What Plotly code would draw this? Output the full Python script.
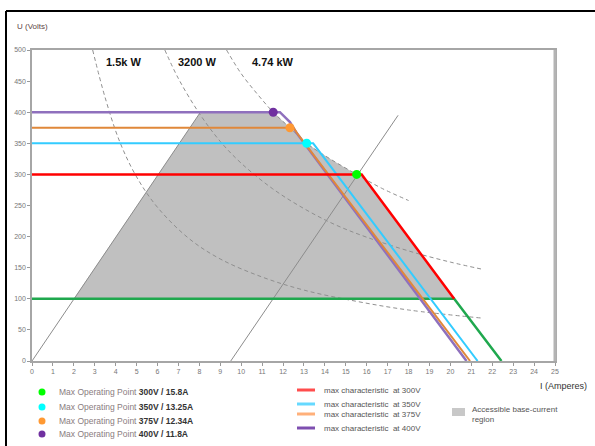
import plotly.graph_objects as go

# ---------------- data ----------------
# Max characteristic curves (I in A, U in V)
red_I = [0, 15.76, 20.18]
red_V = [300, 300, 100]
green_I = [0, 20.18, 22.44]
green_V = [100, 100, 0]
cyan_I = [0, 13.44, 21.3]
cyan_V = [350, 350, 0]
orange_I = [0, 12.5, 12.74, 20.94]
orange_V = [375, 375, 363, 0]
purple_I = [0, 11.85, 12.33, 12.66, 20.77]
purple_V = [400, 400, 384, 366, 0]

# Max operating points
mop_I = [15.52, 13.13, 12.33, 11.53]
mop_V = [300, 350, 375, 400]
mop_colors = ["#00ff00", "#00ffff", "#ff9933", "#7030a0"]
mop_labels = ["300V / 15.8A", "350V / 13.25A", "375V / 12.34A", "400V / 11.8A"]

# Accessible region
region_I = [2.0, 8.05, 11.53, 12.33, 13.13, 14.2, 15.52, 15.76, 20.18, 2.0]
region_V = [100, 400, 400, 375, 350, 326, 300, 300, 100, 100]

# Constant power curves (dashed)
p15_I = [2.9, 3.5, 4.2, 5.0, 6.0, 7.5, 9.0, 11.0, 13.0, 15.5, 18.0, 21.5]
p15_V = [500, 423, 352, 296, 247, 197, 164, 135, 114, 96, 82, 69]
p32_I = [6.35, 7.0, 8.0, 9.0, 10.0, 11.5, 13.0, 14.5, 16.0, 18.0, 20.0, 21.6]
p32_V = [500, 454, 398, 353, 318, 277, 245, 219, 199, 177, 159, 147]
p474_I = [9.3, 10.0, 10.8, 11.53, 12.33, 13.13, 14.2, 15.52, 16.7, 18.0]
p474_V = [500, 462, 428, 400, 375, 350, 326, 300, 278, 258]
power_labels = ["1.5k W", "3200 W", "4.74 kW"]
power_label_I = [4.35, 7.9, 11.5]
power_label_V = [480, 480, 480]

# Solid gray lines
gA_I = [0, 8.05]
gA_V = [0, 400]
gB_I = [9.5, 17.5]
gB_V = [0, 395]

x_ticks = list(range(0, 26))
y_ticks = list(range(0, 501, 50))

line_names = ["max characteristic\u00a0 at 300V", "max characteristic\u00a0 at 350V",
              "max characteristic\u00a0 at 375V", "max characteristic\u00a0 at 400V"]
line_leg_colors = ["#ff4d4d", "#66d9ff", "#ffb07a", "#7e4fb0"]

# ---------------- figure ----------------
W, H = 595, 446
ML, MR, MT, MB = 32, 40, 50, 85
PW, PH = W - ML - MR, H - MT - MB
FONT = "Liberation Sans, Arial, sans-serif"


def XP(px):
    return (px - ML) / PW


def YP(py):
    return (H - MB - py) / PH


fig = go.Figure()

fig.add_trace(go.Scatter(x=region_I, y=region_V, mode="lines", fill="toself",
                         fillcolor="#c0c0c0", line=dict(width=0), hoverinfo="skip"))

for xs, ys in [(gA_I, gA_V), (gB_I, gB_V)]:
    fig.add_trace(go.Scatter(x=xs, y=ys, mode="lines",
                             line=dict(color="#8c8c8c", width=1)))

for xs, ys in [(p15_I, p15_V), (p32_I, p32_V), (p474_I, p474_V)]:
    fig.add_trace(go.Scatter(x=xs, y=ys, mode="lines",
                             line=dict(color="#8f8f8f", width=1, dash="4px,3px",
                                       shape="spline", smoothing=1)))

fig.add_trace(go.Scatter(x=green_I, y=green_V, mode="lines",
                         line=dict(color="#1fa84e", width=2.5)))
fig.add_trace(go.Scatter(x=purple_I, y=purple_V, mode="lines",
                         line=dict(color="#8f70bd", width=2.5)))
fig.add_trace(go.Scatter(x=orange_I, y=orange_V, mode="lines",
                         line=dict(color="#e0883a", width=2)))
fig.add_trace(go.Scatter(x=cyan_I, y=cyan_V, mode="lines",
                         line=dict(color="#33ccff", width=2)))
fig.add_trace(go.Scatter(x=red_I, y=red_V, mode="lines",
                         line=dict(color="#ff0000", width=2.5)))
fig.add_trace(go.Scatter(x=mop_I, y=mop_V, mode="markers",
                         marker=dict(color=mop_colors, size=9, line=dict(width=0))))

annotations = []
for t, xi, yi in zip(power_labels, power_label_I, power_label_V):
    annotations.append(dict(x=xi, y=yi, xref="x", yref="y", text="<b>%s</b>" % t,
                            showarrow=False, font=dict(size=11, color="#111", family=FONT)))

# axis titles
annotations.append(dict(x=XP(15), y=YP(26), xref="paper", yref="paper", text="U (Volts)",
                        xanchor="left", yanchor="middle", showarrow=False,
                        font=dict(size=8, color="#5e4646", family=FONT)))
annotations.append(dict(x=XP(589), y=YP(386), xref="paper", yref="paper", text="I (Amperes)",
                        xanchor="right", yanchor="middle", showarrow=False,
                        font=dict(size=9, color="#333", family=FONT)))

shapes = []
# outer frame (top and left black lines)
shapes.append(dict(type="line", xref="paper", yref="paper", x0=XP(6), x1=XP(600),
                   y0=YP(11), y1=YP(11), line=dict(color="#000", width=2)))
shapes.append(dict(type="line", xref="paper", yref="paper", x0=XP(6), x1=XP(6),
                   y0=YP(11), y1=YP(450), line=dict(color="#000", width=2)))
# thicker right border of plot area
shapes.append(dict(type="line", xref="paper", yref="paper", x0=1, x1=1, y0=0, y1=1,
                   line=dict(color="#b4b4b4", width=3)))

# legend 1: operating points
leg1_rows = [392, 407, 421, 434]
for c, lab, py in zip(mop_colors, mop_labels, leg1_rows):
    shapes.append(dict(type="circle", xref="paper", yref="paper",
                       x0=XP(38.5), x1=XP(45.5), y0=YP(py - 3.5), y1=YP(py + 3.5),
                       fillcolor=c, line=dict(width=0)))
    annotations.append(dict(x=XP(57), y=YP(py), xref="paper", yref="paper",
                            text="<span style='color:#8a7d80'>Max Operating Point</span> <b>%s</b>" % lab,
                            xanchor="left", yanchor="middle", showarrow=False,
                            font=dict(size=8.5, color="#333", family=FONT)))

# legend 2: characteristic lines
leg2_rows = [390, 404, 414, 428]
for c, lab, py in zip(line_leg_colors, line_names, leg2_rows):
    shapes.append(dict(type="line", xref="paper", yref="paper", x0=XP(297), x1=XP(315),
                       y0=YP(py), y1=YP(py), line=dict(color=c, width=3)))
    annotations.append(dict(x=XP(322), y=YP(py), xref="paper", yref="paper", text=lab,
                            xanchor="left", yanchor="middle", showarrow=False,
                            font=dict(size=8, color="#555", family=FONT)))

# legend 3: region
shapes.append(dict(type="rect", xref="paper", yref="paper", x0=XP(452), x1=XP(465),
                   y0=YP(416), y1=YP(408), fillcolor="#c8c8c8", line=dict(width=0)))
annotations.append(dict(x=XP(470), y=YP(414), xref="paper", yref="paper",
                        text="Accessible base-current<br>region", align="left",
                        xanchor="left", yanchor="middle", showarrow=False,
                        font=dict(size=8, color="#555", family=FONT)))

axis_common = dict(showgrid=False, zeroline=False, showline=True, linecolor="#a6a6a6",
                   linewidth=1.5, mirror=True, ticks="outside", ticklen=3, tickcolor="#999",
                   tickfont=dict(size=7, color="#777", family=FONT))

fig.update_layout(
    width=W, height=H,
    margin=dict(l=ML, r=MR, t=MT, b=MB),
    paper_bgcolor="white", plot_bgcolor="white",
    showlegend=False,
    font=dict(family=FONT),
    xaxis=dict(range=[0, 25], tickvals=x_ticks, **axis_common),
    yaxis=dict(range=[0, 500], tickvals=y_ticks, **axis_common),
    annotations=annotations,
    shapes=shapes,
)

fig.write_html("out.html", config={"displayModeBar": False},
               post_script="document.body.style.margin='0';document.body.style.overflow='hidden';")
